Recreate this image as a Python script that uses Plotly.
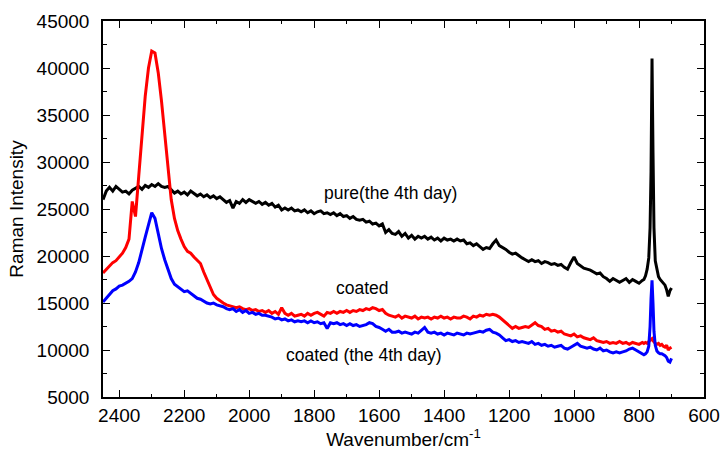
import plotly.graph_objects as go

wavenumber = list(range(2450, 780, -10)) + [785, 780, 775, 770, 766, 763, 760, 757, 754, 750,
                                            745, 740, 735, 730, 725, 720, 715, 710, 705, 700]

pure_4th_day = [
    26000, 26900, 27300, 26900, 27400, 27100, 26800, 26900, 26600, 27000,
    27200, 27400, 27100, 27500, 27300, 27600, 27400, 27700, 27400, 27300,
    27400, 27000, 26700, 26900, 26600, 26800, 26500, 26900, 26600, 26400,
    26600, 26300, 26500, 26200, 26400, 26100, 26300, 26000, 25700, 25900,
    25100, 25800, 25600, 26000, 25700, 26000, 25800, 25600, 25800, 25500,
    25700, 25400, 25600, 25200, 25400, 24900, 25100, 24900, 25100, 24800,
    24900, 24700, 24900, 24600, 24800, 24500, 24700, 24800, 24500, 24600,
    24400, 24600, 24300, 24500, 24200, 24300, 24000, 24200, 23900, 23800,
    23900, 23600, 23700, 23400, 23500, 23200, 23400, 22500, 22800, 22400,
    22300, 22600, 22100, 22400, 21900, 22200, 21800, 22100, 21900, 22100,
    21800, 22000, 21700, 21900, 21600, 21900, 21700, 21800, 21600, 21800,
    21600, 21700, 21300, 21400, 21100, 21300, 21000, 20700, 20900, 20800,
    21300, 21700, 21100, 20900, 20700, 20400, 20200, 20300, 20000, 19800,
    19600, 19400, 19600, 19400, 19500, 19200, 19400, 19300, 19100, 19200,
    19000, 19100, 18800, 18600, 19300, 19900, 19200, 18900, 18700, 18600,
    18500, 18300, 18100, 18200, 17800, 17600, 17300, 17600, 17400, 17200,
    17400, 17600, 17200, 17500, 17300, 17100, 17400,
    17500, 17900, 18600, 19800, 23000, 29000, 41000, 31000, 23000, 19500,
    18400, 17800, 17500, 17300, 17000, 16900, 16400, 15700, 16300, 16600,
]

coated = [
    18200, 18600, 19000, 19300, 19500, 19900, 20300, 20900, 21800, 25800,
    24200, 28500, 33000, 37000, 40000, 41800, 41600, 39500, 36500, 33000,
    29500, 26000, 24000, 22700, 21800, 21000, 20500, 20300, 19900, 19600,
    19200, 18300, 17500, 16600, 15900, 15500, 15200, 15000, 14800, 14700,
    14600, 14500, 14600, 14400, 14300, 14400, 14200, 14300, 14100, 14200,
    14000, 14200, 13900, 14100, 13800, 14500, 13900, 13700, 13900, 13600,
    13700, 13800, 13600, 13900, 13700, 13900, 14000, 13800, 13600, 14000,
    13900, 14100, 13900, 14100, 14000, 14200, 14000, 14200, 14100, 14300,
    14200, 14400, 14300, 14500, 14400, 14200, 14300, 13900, 13700, 13600,
    13500, 13700, 13400, 13600, 13500, 13400, 13600, 13300, 13500, 13400,
    13500, 13300, 13500, 13400, 13600, 13400, 13500, 13300, 13500, 13400,
    13400, 13600, 13500, 13300, 13600, 13500, 13700, 13600, 13800, 13700,
    13800, 13700, 13500, 13200, 12900, 12600, 12300, 12500, 12300, 12400,
    12500, 12400, 12700, 12900, 12600, 12500, 12200, 12300, 12000, 12100,
    11900, 12000, 11700, 11600, 11500, 11700, 11400, 11500, 11300, 11200,
    11100, 11300, 11000, 10900, 10800, 10900, 10700, 10800, 10700, 10900,
    10700, 10800, 10600, 10800, 10700, 10600, 10800,
    10700, 10800, 10700, 10900, 11000, 11100, 11200, 11000, 10800, 10700,
    10600, 10700, 10500, 10600, 10400, 10300, 10500, 10000, 10200, 10300,
]

coated_4th_day = [
    15100, 15500, 15900, 16300, 16500, 16800, 16900, 17100, 17300, 17600,
    18300, 19300, 20800, 22000, 23300, 24600, 24000, 22300, 20800, 19600,
    18500, 17600, 17000, 16700, 16500, 16200, 16300, 16000, 15800, 15500,
    15400, 15200, 15000, 14900, 15000, 14800, 14700, 14600, 14400, 14300,
    14400, 14100, 14300, 14000, 14200, 13900, 14000, 13800, 13900, 13700,
    13700, 13600, 13500, 13300, 13400, 13200, 13300, 13100, 13200, 13000,
    13100, 13000, 13100, 12900, 13100, 12900, 13000, 12800, 12900, 12300,
    12900, 12800, 12900, 12700, 12800, 12600, 12800, 12600, 12700, 12500,
    12600, 12700, 12900, 12800, 12500, 12400, 12200, 12000, 12200, 11900,
    11900, 12000, 11800, 11900, 11800, 11700, 11900, 11800, 12100, 12400,
    11900, 11800, 11900, 11700, 11800, 11600, 11800, 11700, 11600, 11800,
    11700, 11600, 11800, 11700, 11800, 11900, 12000, 11900, 12100, 12200,
    11900, 11800, 11600, 11300, 11000, 11100, 10900, 11000, 10800, 10900,
    10800, 10700, 10900, 10600, 10700, 10500, 10600, 10400, 10500, 10300,
    10400, 10500, 10200, 10100, 10300, 10500, 10700, 10400, 10300, 10200,
    10300, 10100, 10000, 10200, 9900, 10000, 9800, 9700, 9800, 9700,
    9800, 9900, 10100, 10200, 10000, 9800, 9600,
    9500, 9600, 9800, 10400, 12500, 15500, 17400, 15000, 12000, 10500,
    9900, 9700, 9600, 9600, 9500, 9400, 9200, 8800, 8700, 9100,
]

labels = ["pure(the 4th day)", "coated", "coated (the 4th day)"]
label_pos = [(1564, 26700), (1650, 16600), (1647, 9470)]

FONT = "Liberation Sans, Arial, sans-serif"

fig = go.Figure()
for name, ys, col in [(labels[0], pure_4th_day, "black"),
                      (labels[1], coated, "#ff0000"),
                      (labels[2], coated_4th_day, "#0000ff")]:
    fig.add_trace(go.Scatter(x=wavenumber, y=ys, mode="lines", name=name,
                             line=dict(color=col, width=3)))

for txt, (xx, yy) in zip(labels, label_pos):
    fig.add_annotation(x=xx, y=yy, text=txt, showarrow=False,
                       font=dict(size=17.5, color="black", family=FONT))

axis_common = dict(showline=True, linecolor="black", linewidth=1.5, mirror="allticks",
                   ticks="inside", ticklen=7, tickwidth=1.2, tickcolor="black",
                   showgrid=False, zeroline=False, tickformat="d", automargin=False,
                   tickfont=dict(size=19, color="black", family=FONT))

fig.update_xaxes(range=[2450, 600], dtick=200, tick0=600,
                 minor=dict(dtick=100, ticks="inside", ticklen=3, tickcolor="black"),
                 title=dict(text="Wavenumber/cm<sup>-1</sup>", standoff=6,
                            font=dict(size=19, color="black", family=FONT)),
                 **axis_common)
fig.update_yaxes(range=[5000, 45000], dtick=5000, tick0=5000,
                 minor=dict(dtick=2500, ticks="inside", ticklen=4, tickcolor="black"),
                 ticklabelstandoff=8,
                 title=dict(text="Raman Intensity", standoff=8,
                            font=dict(size=19, color="black", family=FONT)),
                 **axis_common)

fig.update_layout(width=721, height=460, showlegend=False,
                  plot_bgcolor="white", paper_bgcolor="white",
                  margin=dict(l=103, r=17, t=21, b=63))

fig.write_html("out.html", config={"displayModeBar": False})

# remove the browser's default page margin so the figure fills the window exactly
with open("out.html", "r", encoding="utf-8") as f:
    html = f.read()
html = html.replace("<body>", '<body style="margin:0;overflow:hidden">', 1)
with open("out.html", "w", encoding="utf-8") as f:
    f.write(html)
